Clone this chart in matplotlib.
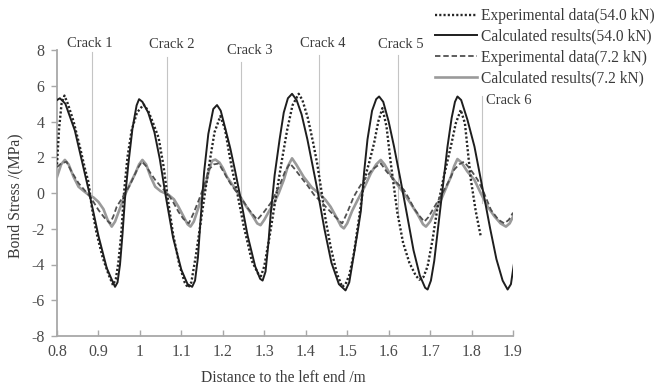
import matplotlib
matplotlib.use("Agg")
import matplotlib.pyplot as plt

plt.rcParams['font.family'] = ['Liberation Serif', 'DejaVu Serif']
plt.rcParams['axes.unicode_minus'] = False

# Experimental data, 54.0 kN
exp54_x = [0.800, 0.805, 0.811, 0.818, 0.826, 0.840, 0.855, 0.868, 0.876, 0.884, 0.895, 0.910,
           0.925, 0.935, 0.942, 0.948, 0.955, 0.962, 0.970, 0.980, 0.993, 1.009, 1.020, 1.032,
           1.045, 1.057, 1.069, 1.080, 1.095, 1.108, 1.116, 1.124, 1.135, 1.150, 1.160, 1.170,
           1.180, 1.194, 1.205, 1.220, 1.234, 1.250, 1.270, 1.285, 1.292, 1.300, 1.313, 1.331,
           1.343, 1.355, 1.368, 1.383, 1.392, 1.405, 1.418, 1.428, 1.438, 1.448, 1.460, 1.475,
           1.488, 1.496, 1.505, 1.516, 1.528, 1.541, 1.553, 1.565, 1.575, 1.585, 1.595, 1.605,
           1.613, 1.621, 1.635, 1.650, 1.665, 1.674, 1.684, 1.694, 1.706, 1.718, 1.733, 1.750,
           1.762, 1.774, 1.784, 1.798, 1.810, 1.822]
exp54_y = [1.6, 3.6, 5.0, 5.45, 5.0, 4.0, 2.6, 1.3, 0.6, -0.8, -2.2, -3.6,
           -4.6, -5.15, -4.8, -3.9, -2.3, 0.1, 2.0, 3.5, 4.5, 4.95, 4.6, 3.9,
           3.1, 1.5, -0.6, -2.3, -4.0, -5.0, -5.3, -5.0, -3.5, -1.1, 0.5, 2.0,
           3.4, 4.3, 3.6, 1.6, 0.1, -1.8, -3.8, -4.5, -4.65, -4.1, -2.4, 0.2,
           1.9, 3.5, 4.9, 5.55, 5.2, 4.2, 2.8, 1.6, 0.1, -1.5, -3.0, -4.5,
           -5.25, -5.1, -4.6, -3.4, -1.5, 0.7, 1.7, 2.8, 4.0, 4.75, 3.7, 1.7,
           0.3, -1.1, -2.8, -3.9, -4.6, -4.85, -4.7, -4.1, -2.6, -0.8, 0.9, 2.6,
           3.9, 4.65, 3.9, 0.8, -1.0, -2.4]

# Calculated results, 54.0 kN
calc54_x = [0.800, 0.807, 0.820, 0.843, 0.862, 0.877, 0.900, 0.920, 0.935, 0.940, 0.946, 0.952,
            0.958, 0.964, 0.972, 0.982, 0.992, 0.998, 1.006, 1.020, 1.035, 1.048, 1.061, 1.080,
            1.100, 1.115, 1.126, 1.133, 1.140, 1.146, 1.155, 1.165, 1.177, 1.186, 1.195, 1.205,
            1.218, 1.230, 1.242, 1.260, 1.278, 1.290, 1.296, 1.303, 1.310, 1.315, 1.325, 1.337,
            1.347, 1.357, 1.367, 1.378, 1.390, 1.404, 1.416, 1.428, 1.445, 1.462, 1.480, 1.496,
            1.505, 1.515, 1.525, 1.533, 1.541, 1.549, 1.560, 1.570, 1.577, 1.587, 1.600, 1.613,
            1.629, 1.645, 1.660, 1.675, 1.688, 1.694, 1.702, 1.710, 1.718, 1.730, 1.742, 1.752,
            1.760, 1.766, 1.775, 1.790, 1.807, 1.827, 1.845, 1.860, 1.875, 1.887, 1.895, 1.902]
calc54_y = [5.2, 5.3, 5.0, 3.5, 1.6, 0.1, -2.4, -4.2, -5.0, -5.25, -5.0, -4.0,
            -2.3, -0.3, 1.6, 3.6, 4.9, 5.25, 5.1, 4.5, 3.4, 1.9, 0.0, -2.5,
            -4.3, -5.1, -5.25, -4.9, -3.6, -1.6, 1.2, 3.3, 4.7, 4.92, 4.6, 3.7,
            2.5, 1.2, -0.2, -2.4, -4.1, -4.8, -4.9, -4.4, -2.8, -1.3, 1.0, 3.0,
            4.5, 5.3, 5.55, 5.2, 4.4, 3.0, 1.6, 0.2, -2.0, -3.9, -5.1, -5.45,
            -5.0, -3.6, -2.2, -1.0, 1.2, 3.0, 4.6, 5.25, 5.4, 5.1, 4.0, 2.6,
            0.7, -1.3, -3.2, -4.6, -5.3, -5.4, -4.9, -3.8, -2.2, 0.2, 2.6, 4.2,
            5.1, 5.4, 5.2, 4.1, 2.6, 0.2, -2.0, -3.7, -4.9, -5.4, -5.1, -4.0]

# Experimental data, 7.2 kN
exp7_x = [0.800, 0.810, 0.823, 0.835, 0.852, 0.865, 0.876, 0.888, 0.900, 0.915, 0.928, 0.936,
          0.944, 0.954, 0.964, 0.975, 0.985, 0.995, 1.005, 1.015, 1.026, 1.037, 1.053, 1.069,
          1.080, 1.093, 1.105, 1.118, 1.130, 1.142, 1.155, 1.166, 1.178, 1.190, 1.204, 1.218,
          1.230, 1.242, 1.262, 1.283, 1.298, 1.315, 1.328, 1.339, 1.350, 1.362, 1.375, 1.388,
          1.405, 1.420, 1.437, 1.452, 1.470, 1.488, 1.500, 1.516, 1.530, 1.541, 1.560, 1.581,
          1.595, 1.613, 1.637, 1.650, 1.661, 1.675, 1.686, 1.696, 1.706, 1.720, 1.734, 1.746,
          1.758, 1.770, 1.782, 1.798, 1.815, 1.830, 1.847, 1.865, 1.879, 1.890, 1.900]
exp7_y = [1.45, 1.65, 1.75, 1.2, 0.55, 0.2, -0.1, -0.5, -0.95, -1.4, -1.7, -1.3,
          -0.77, -0.4, 0.0, 0.4, 0.9, 1.4, 1.75, 1.5, 1.1, 0.73, 0.3, -0.1,
          -0.5, -1.05, -1.45, -1.7, -1.1, -0.4, 0.4, 1.3, 1.6, 1.65, 1.1, 0.54,
          0.15, -0.2, -0.9, -1.5, -1.1, -0.58, 0.0, 0.54, 1.2, 1.65, 1.3, 0.9,
          0.4, -0.1, -0.5, -0.86, -1.3, -1.7, -1.1, -0.2, 0.35, 0.73, 1.3, 1.66,
          1.2, 0.73, 0.17, -0.35, -0.86, -1.3, -1.6, -1.35, -0.95, -0.4, 0.17, 0.7,
          1.3, 1.6, 1.75, 1.3, 0.73, 0.0, -0.95, -1.5, -1.7, -1.5, -1.1]

# Calculated results, 7.2 kN
calc7_x = [0.800, 0.810, 0.819, 0.828, 0.840, 0.852, 0.865, 0.876, 0.888, 0.900, 0.912, 0.922,
           0.932, 0.940, 0.948, 0.956, 0.964, 0.976, 0.989, 0.998, 1.006, 1.015, 1.026, 1.037,
           1.050, 1.069, 1.082, 1.093, 1.105, 1.115, 1.122, 1.130, 1.140, 1.150, 1.160, 1.168,
           1.174, 1.182, 1.192, 1.200, 1.210, 1.225, 1.242, 1.255, 1.270, 1.283, 1.291, 1.300,
           1.312, 1.323, 1.335, 1.347, 1.357, 1.367, 1.377, 1.395, 1.415, 1.436, 1.448, 1.460,
           1.475, 1.485, 1.492, 1.500, 1.512, 1.525, 1.541, 1.557, 1.570, 1.581, 1.590, 1.600,
           1.613, 1.633, 1.653, 1.670, 1.683, 1.690, 1.700, 1.712, 1.726, 1.738, 1.750, 1.758,
           1.766, 1.776, 1.790, 1.807, 1.822, 1.839, 1.855, 1.870, 1.883, 1.892, 1.902]
calc7_y = [0.9, 1.6, 1.85, 1.6, 0.9, 0.35, 0.1, -0.1, -0.25, -0.5, -0.9, -1.5,
           -1.88, -1.6, -1.1, -0.6, -0.1, 0.5, 1.1, 1.6, 1.85, 1.6, 0.9, 0.35,
           0.1, -0.1, -0.35, -0.77, -1.3, -1.75, -1.88, -1.6, -0.9, -0.2, 0.6, 1.4,
           1.8, 1.87, 1.7, 1.4, 0.9, 0.4, -0.2, -0.7, -1.2, -1.7, -1.8, -1.5,
           -1.0, -0.58, 0.0, 0.73, 1.5, 1.94, 1.6, 0.9, 0.3, -0.1, -0.4, -0.77,
           -1.4, -1.85, -1.98, -1.7, -1.0, -0.4, 0.3, 1.1, 1.6, 1.85, 1.6, 1.2,
           0.73, 0.1, -0.58, -1.2, -1.75, -1.88, -1.6, -1.0, -0.4, 0.25, 0.9, 1.5,
           1.9, 1.7, 1.2, 0.73, 0.0, -0.77, -1.3, -1.7, -1.88, -1.7, -1.23]

# Crack locations along the bar
crack_names = ["Crack 1", "Crack 2", "Crack 3", "Crack 4", "Crack 5", "Crack 6"]
crack_x = [0.885, 1.066, 1.245, 1.431, 1.622, 1.825]

series_labels = ["Experimental data(54.0 kN)", "Calculated results(54.0 kN)",
                 "Experimental data(7.2 kN)", "Calculated results(7.2 kN)"]

x_ticks = [0.8, 0.9, 1.0, 1.1, 1.2, 1.3, 1.4, 1.5, 1.6, 1.7, 1.8, 1.9]
x_tick_labels = ["0.8", "0.9", "1", "1.1", "1.2", "1.3", "1.4", "1.5", "1.6", "1.7", "1.8", "1.9"]
y_ticks = [-8, -6, -4, -2, 0, 2, 4, 6, 8]

# ---- drawing ----
W, H = 655, 386
fig = plt.figure(figsize=(W / 100, H / 100), dpi=100)
ax = fig.add_axes([57 / W, 50 / H, 456 / W, 286 / H])

text_c = "#3a3a3a"
axis_c = "#a8a8a8"

# Crack marker lines and labels (label offsets in data units)
line_top = [7.9, 7.6, 7.33, 7.72, 7.72, 5.4]
line_bot = [-0.1, -0.4, -0.4, -0.56, -1.4, -0.56]
label_pos = [(0.879, 8.38), (1.078, 8.28), (1.264, 8.0), (1.442, 8.34), (1.629, 8.28), (1.834, 5.2)]
label_ha = ["center", "center", "center", "center", "center", "left"]
for name, cx, t, b, (lx, ly), ha in zip(crack_names, crack_x, line_top, line_bot, label_pos, label_ha):
    ax.plot([cx, cx], [b, t], color="#c4c4c4", lw=0.8, zorder=1)
    ax.text(lx, ly, name, ha=ha, va="center", fontsize=10.5, color=text_c)

l_exp54, = ax.plot(exp54_x, exp54_y, color="#262626", lw=1.7, linestyle=(0, (0.9, 0.9)),
                   zorder=3, label=series_labels[0])
l_calc54, = ax.plot(calc54_x, calc54_y, color="#1e1e1e", lw=1.4, zorder=4,
                    solid_joinstyle="round", label=series_labels[1])
l_exp7, = ax.plot(exp7_x, exp7_y, color="#505050", lw=1.3, linestyle=(0, (3.0, 1.6)),
                  zorder=3, label=series_labels[2])
l_calc7, = ax.plot(calc7_x, calc7_y, color="#9a9a9a", lw=1.9, zorder=2,
                   solid_joinstyle="round", label=series_labels[3])

ax.set_xlim(0.8, 1.9)
ax.set_ylim(-8, 8)
ax.set_xticks(x_ticks)
ax.set_xticklabels(x_tick_labels)
ax.set_yticks(y_ticks)

for s in ("top", "right"):
    ax.spines[s].set_visible(False)
for s in ("left", "bottom"):
    ax.spines[s].set_color(axis_c)
    ax.spines[s].set_linewidth(1.3)

ax.tick_params(axis="x", direction="in", length=4, width=1.0, color=axis_c,
               labelsize=11.5, labelcolor="#4a4a4a", pad=6)
ax.tick_params(axis="y", direction="out", length=4, width=1.0, color=axis_c,
               labelsize=11.5, labelcolor="#4a4a4a", pad=5)

ax.set_xlabel("Distance to the left end /m", fontsize=11.2, color=text_c)
ax.set_ylabel("Bond Stress /(MPa)", fontsize=11.3, color=text_c)
ax.xaxis.label.set_verticalalignment("baseline")
ax.xaxis.set_label_coords(0.497, -0.161)
ax.yaxis.set_label_coords(-0.074, 0.49)

leg = fig.legend(handles=[l_exp54, l_calc54, l_exp7, l_calc7], labels=series_labels,
                 loc="upper left", bbox_to_anchor=(435 / W, 1 - 8 / H),
                 frameon=False, fontsize=11.2, handlelength=2.7, handletextpad=0.25,
                 labelspacing=0.31, borderpad=0, borderaxespad=0)
for t in leg.get_texts():
    t.set_color(text_c)

fig.savefig("out.png", dpi=100)
